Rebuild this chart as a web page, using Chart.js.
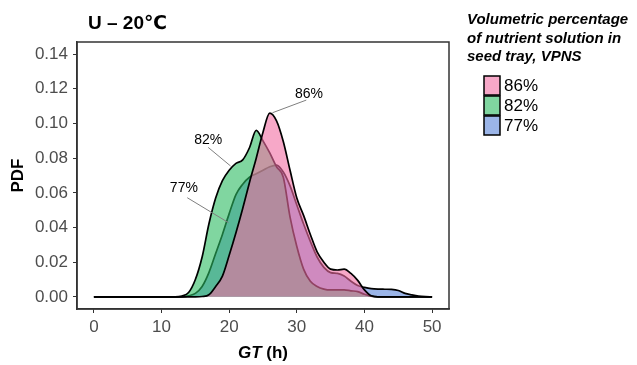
<!DOCTYPE html>
<html>
<head>
<meta charset="utf-8">
<script src="https://cdn.jsdelivr.net/npm/chart.js@4.4.1/dist/chart.umd.min.js"></script>
<style>
  html, body { margin: 0; padding: 0; background: #fff; }
  #wrap { width: 637px; height: 365px; }
</style>
</head>
<body>
<div id="wrap"><canvas id="pdfChart" width="637" height="365"></canvas></div>
<script>
// GT (h) grid and density values
const gt = [0, 10, 11, 12, 13, 14, 15, 16, 17, 18, 19, 20, 21, 22, 23, 24, 25, 26, 27, 28, 29,
            30, 31, 32, 33, 34, 35, 36, 37, 38, 39, 40, 41, 42, 43, 44, 45, 46, 47, 48, 49, 50];
const pdf86 = [0, 0, 0, 0, 0, 0, 0, 0.0002, 0.0012, 0.006, 0.012, 0.024, 0.037, 0.051, 0.066, 0.080, 0.095, 0.106, 0.1015, 0.0896, 0.073,
               0.057, 0.047, 0.036, 0.026, 0.020, 0.016, 0.0155, 0.016, 0.0135, 0.0095, 0.004, 0.0006, 0, 0, 0, 0, 0, 0, 0, 0, 0];
const pdf82 = [0, 0, 0, 0, 0.0005, 0.0025, 0.010, 0.023, 0.042, 0.057, 0.067, 0.073, 0.077, 0.079, 0.086, 0.096, 0.090, 0.083, 0.075, 0.069, 0.046,
               0.029, 0.016, 0.009, 0.006, 0.0045, 0.004, 0.004, 0.004, 0.0035, 0.003, 0.0015, 0.0004, 0, 0, 0, 0, 0, 0, 0, 0, 0];
const pdf77 = [0, 0, 0, 0, 0, 0.0006, 0.002, 0.006, 0.014, 0.025, 0.036, 0.048, 0.059, 0.065, 0.069, 0.071, 0.073, 0.075, 0.076, 0.072, 0.064,
               0.053, 0.042, 0.032, 0.023, 0.017, 0.014, 0.0135, 0.012, 0.009, 0.0065, 0.0055, 0.0048, 0.0045, 0.0044, 0.0043, 0.0037, 0.002, 0.0011, 0.0004, 0.0001, 0];
const seriesNames = ['86%', '82%', '77%'];
const xTicks = [0, 10, 20, 30, 40, 50];
const yTicks = [0, 0.02, 0.04, 0.06, 0.08, 0.10, 0.12, 0.14];
const chartTitle = 'U \u2013 20\u2103';
const legendTitle = ['Volumetric percentage', 'of nutrient solution in', 'seed tray, VPNS'];

const fills = ['rgba(242,110,163,0.6)', 'rgba(43,187,97,0.6)', 'rgba(88,132,217,0.6)'];
const FONT = '"Liberation Sans", Arial, "DejaVu Sans", sans-serif';

// leader lines for the curve labels, in data units
const callouts = [
  { text: '86%', at: [31.8, 0.1172], from: [31.4, 0.1135], to: [26.4, 0.1062] },
  { text: '82%', at: [16.9, 0.0905], from: [16.9, 0.0862], to: [20.2, 0.0755] },
  { text: '77%', at: [13.3, 0.0625], from: [13.8, 0.0572], to: [19.9, 0.0428] }
];

const toPoints = vals => gt.map((g, i) => ({ x: g, y: vals[i] }));

const decorations = {
  id: 'decorations',
  afterDatasetsDraw(chart) {
    const { ctx, chartArea: a, scales: { x, y } } = chart;
    ctx.save();

    // callouts
    callouts.forEach(c => {
      ctx.strokeStyle = '#7f7f7f';
      ctx.lineWidth = 1;
      ctx.beginPath();
      ctx.moveTo(x.getPixelForValue(c.from[0]), y.getPixelForValue(c.from[1]));
      ctx.lineTo(x.getPixelForValue(c.to[0]), y.getPixelForValue(c.to[1]));
      ctx.stroke();
      ctx.fillStyle = '#000';
      ctx.font = '14px ' + FONT;
      ctx.textAlign = 'center';
      ctx.textBaseline = 'middle';
      ctx.fillText(c.text, x.getPixelForValue(c.at[0]), y.getPixelForValue(c.at[1]));
    });

    // panel border
    ctx.strokeStyle = '#333';
    ctx.lineWidth = 1.5;
    ctx.strokeRect(a.left, a.top, a.right - a.left, a.bottom - a.top);

    // title
    ctx.fillStyle = '#000';
    ctx.font = 'bold 19px ' + FONT;
    ctx.textAlign = 'left';
    ctx.textBaseline = 'middle';
    ctx.fillText(chartTitle, 88, 24);

    // y axis title
    ctx.save();
    ctx.translate(18, (a.top + a.bottom) / 2);
    ctx.rotate(-Math.PI / 2);
    ctx.textAlign = 'center';
    ctx.font = 'bold 17px ' + FONT;
    ctx.fillText('PDF', 0, 0);
    ctx.restore();

    // x axis title: italic GT + (h)
    const cx = (a.left + a.right) / 2;
    ctx.font = 'bold italic 17px ' + FONT;
    const w1 = ctx.measureText('GT').width;
    ctx.font = 'bold 17px ' + FONT;
    const w2 = ctx.measureText(' (h)').width;
    let sx = cx - (w1 + w2) / 2;
    ctx.textAlign = 'left';
    ctx.font = 'bold italic 17px ' + FONT;
    ctx.fillText('GT', sx, 353);
    ctx.font = 'bold 17px ' + FONT;
    ctx.fillText(' (h)', sx + w1, 353);

    // legend
    ctx.font = 'bold italic 15px ' + FONT;
    legendTitle.forEach((line, i) => ctx.fillText(line, 467, 20 + i * 18.5));
    seriesNames.forEach((name, i) => {
      const top = 76 + i * 20;
      ctx.fillStyle = '#fff';
      ctx.fillRect(484, top, 16, 19);
      ctx.fillStyle = fills[i];
      ctx.fillRect(484, top, 16, 19);
      ctx.strokeStyle = '#000';
      ctx.lineWidth = 1.5;
      ctx.strokeRect(484, top, 16, 19);
      ctx.fillStyle = '#000';
      ctx.font = '17px ' + FONT;
      ctx.fillText(name, 504, top + 10);
    });

    ctx.restore();
  }
};

const ctx = document.getElementById('pdfChart').getContext('2d');
new Chart(ctx, {
  type: 'line',
  data: {
    datasets: [pdf86, pdf82, pdf77].map((vals, i) => ({
      label: seriesNames[i],
      data: toPoints(vals),
      borderColor: '#000',
      borderWidth: 1.7,
      backgroundColor: fills[i],
      fill: 'origin',
      pointRadius: 0,
      cubicInterpolationMode: 'monotone'
    }))
  },
  options: {
    responsive: false,
    animation: false,
    devicePixelRatio: 1,
    layout: { padding: { left: 0, top: 42, right: 188, bottom: 0 } },
    plugins: { legend: { display: false }, tooltip: { enabled: false } },
    scales: {
      x: {
        type: 'linear',
        min: -2.5,
        max: 52.5,
        afterBuildTicks: s => { s.ticks = xTicks.map(v => ({ value: v })); },
        afterFit: s => { s.height = 56; },
        grid: { drawOnChartArea: false, drawTicks: true, tickLength: 4, color: '#333', lineWidth: 1 },
        border: { display: true, color: '#333', width: 1.5 },
        ticks: { color: '#4d4d4d', padding: 4, font: { size: 17, family: FONT }, maxRotation: 0 }
      },
      y: {
        type: 'linear',
        min: -0.007,
        max: 0.147,
        afterBuildTicks: s => { s.ticks = yTicks.map(v => ({ value: v })); },
        afterFit: s => { s.width = 77; },
        grid: { drawOnChartArea: false, drawTicks: true, tickLength: 4, color: '#333', lineWidth: 1 },
        border: { display: true, color: '#333', width: 1.5 },
        ticks: { color: '#4d4d4d', padding: 5, font: { size: 17, family: FONT }, callback: v => v.toFixed(2) }
      }
    }
  },
  plugins: [decorations]
});
</script>
</body>
</html>
